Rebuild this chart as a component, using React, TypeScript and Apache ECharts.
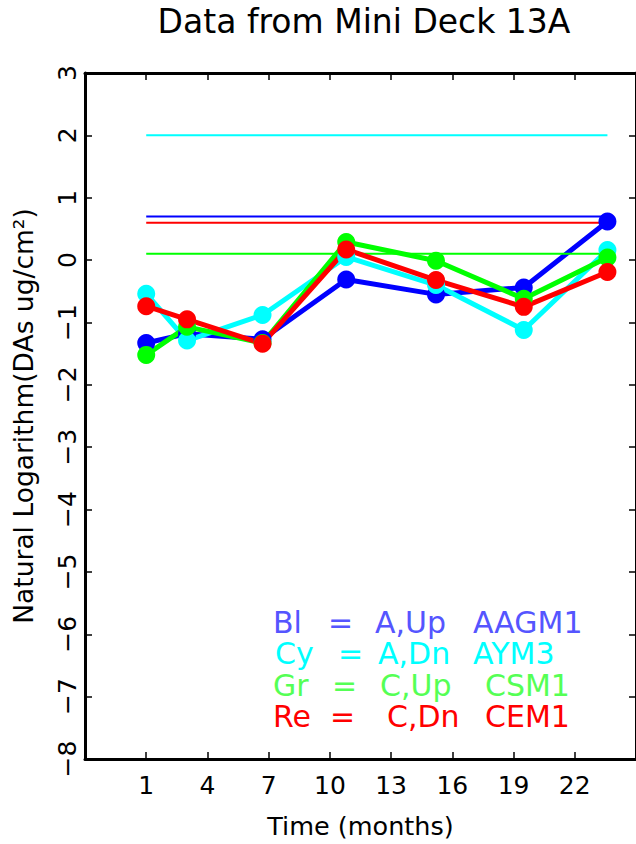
import React, { useEffect, useRef } from "react";
import * as echarts from "echarts";

// ---- data ----
const MONTHS = [1, 3, 6.7, 10.8, 15.2, 19.5, 23.6];
const BLUE_VALUES = [-1.33, -1.18, -1.27, -0.31, -0.55, -0.44, 0.62];
const CYAN_VALUES = [-0.54, -1.29, -0.88, 0.05, -0.4, -1.12, 0.16];
const GREEN_VALUES = [-1.52, -1.07, -1.33, 0.29, -0.01, -0.62, 0.04];
const RED_VALUES = [-0.74, -0.95, -1.34, 0.17, -0.32, -0.75, -0.19];
const BLUE_REF = 0.7;
const CYAN_REF = 2.0;
const GREEN_REF = 0.1;
const RED_REF = 0.6;
const X_TICKS = [1, 4, 7, 10, 13, 16, 19, 22];
const LEGEND_CODES = ["Bl", "Cy", "Gr", "Re"];
const LEGEND_SIDES = ["A,Up", "A,Dn", "C,Up", "C,Dn"];
const LEGEND_IDS = ["AAGM1", "AYM3", "CSM1", "CEM1"];

const TITLE = "Data from Mini Deck 13A";
const X_NAME = "Time (months)";
const Y_NAME = "Natural Logarithm(DAs ug/cm\u00B2)";

// ---- styling / layout ----
const FONT = "DejaVu Sans";
const LINE_COLORS = ["#0000ff", "#00ffff", "#00ff00", "#ff0000"];
const TEXT_COLORS = ["#5555ff", "#00ffff", "#55ff55", "#ff0000"];
const LEGEND_Y = [622, 653.5, 685, 716.5];
const LEGEND_X = [
  [273, 328, 375, 473],
  [275, 338, 378, 473],
  [273, 332, 380, 485],
  [273, 330, 387, 485],
];

export default function App() {
  const ref = useRef<HTMLDivElement>(null);
  useEffect(() => {
    if (!ref.current) return;
    const chart = echarts.init(ref.current, null, { renderer: "svg" });
    const seriesVals = [BLUE_VALUES, CYAN_VALUES, GREEN_VALUES, RED_VALUES];
    const refs = [BLUE_REF, CYAN_REF, GREEN_REF, RED_REF];
    const series: any[] = [];
    seriesVals.forEach((vals, k) => {
      series.push({
        type: "line",
        data: MONTHS.map((m, i) => [m, vals[i]]),
        symbol: "circle",
        symbolSize: 18,
        lineStyle: { width: 5, color: LINE_COLORS[k] },
        itemStyle: { color: LINE_COLORS[k] },
        silent: true,
        emphasis: { disabled: true },
      });
      series.push({
        type: "line",
        data: MONTHS.map((m) => [m, refs[k]]),
        showSymbol: false,
        symbol: "none",
        lineStyle: { width: 2, color: LINE_COLORS[k] },
        silent: true,
        emphasis: { disabled: true },
      });
    });

    const graphic: any[] = [
      {
        id: "title",
        type: "text",
        x: 364,
        y: 21,
        style: {
          text: TITLE,
          fontFamily: FONT,
          fontSize: 33,
          fill: "#000",
          textAlign: "center",
          textVerticalAlign: "middle",
        },
      },
    ];
    LEGEND_CODES.forEach((code, i) => {
      const parts = [code, "=", LEGEND_SIDES[i], LEGEND_IDS[i]];
      parts.forEach((p, j) => {
        graphic.push({
          id: `leg-${i}-${j}`,
          type: "text",
          x: LEGEND_X[i][j],
          y: LEGEND_Y[i],
          z: 100,
          style: {
            text: p,
            fontFamily: FONT,
            fontSize: 30,
            lineHeight: 28,
            fill: TEXT_COLORS[i],
            textAlign: "left",
            textVerticalAlign: "middle",
          },
        });
      });
    });

    const axisLineStyle = { color: "#000", width: 3 };
    const tickStyle = { color: "#000", width: 1.5 };
    const option: any = {
      animation: false,
      textStyle: { fontFamily: FONT },
      grid: { left: 85, top: 73, width: 557, height: 686 },
      xAxis: [
        {
          type: "value",
          position: "bottom",
          min: -2,
          max: 25,
          name: X_NAME,
          nameLocation: "middle",
          nameGap: 54,
          nameTextStyle: { fontSize: 25.5, color: "#000", fontFamily: FONT },
          axisLine: { show: true, onZero: false, lineStyle: axisLineStyle },
          axisTick: { show: true, inside: true, length: 7, customValues: X_TICKS, lineStyle: tickStyle },
          axisLabel: { customValues: X_TICKS, fontSize: 25, color: "#000", margin: 14, fontFamily: FONT },
          splitLine: { show: false },
        },
        {
          type: "value",
          position: "top",
          min: -2,
          max: 25,
          axisLine: { show: true, onZero: false, lineStyle: axisLineStyle },
          axisTick: { show: true, inside: true, length: 7, customValues: X_TICKS, lineStyle: tickStyle },
          axisLabel: { show: false },
          splitLine: { show: false },
        },
      ],
      yAxis: [
        {
          type: "value",
          position: "left",
          min: -8,
          max: 3,
          interval: 1,
          name: Y_NAME,
          nameLocation: "middle",
          nameGap: 48,
          nameRotate: 90,
          nameTextStyle: { fontSize: 26.5, color: "#000", fontFamily: FONT },
          axisLine: { show: true, onZero: false, lineStyle: axisLineStyle },
          axisTick: { show: true, inside: true, length: 7, lineStyle: tickStyle },
          axisLabel: {
            rotate: 90,
            fontSize: 25,
            color: "#000",
            margin: 5,
            fontFamily: FONT,
            formatter: (v: number) => String(v).replace("-", "\u2212"),
          },
          splitLine: { show: false },
        },
        {
          type: "value",
          position: "right",
          min: -8,
          max: 3,
          interval: 1,
          axisLine: { show: true, onZero: false, lineStyle: axisLineStyle },
          axisTick: { show: true, inside: true, length: 7, lineStyle: tickStyle },
          axisLabel: { show: false },
          splitLine: { show: false },
        },
      ],
      series,
      graphic,
    };
    chart.setOption(option);
    return () => chart.dispose();
  }, []);
  return (
    <div
      ref={ref}
      style={{ position: "absolute", left: 0, top: 0, width: 636, height: 844, background: "#fff" }}
    />
  );
}
